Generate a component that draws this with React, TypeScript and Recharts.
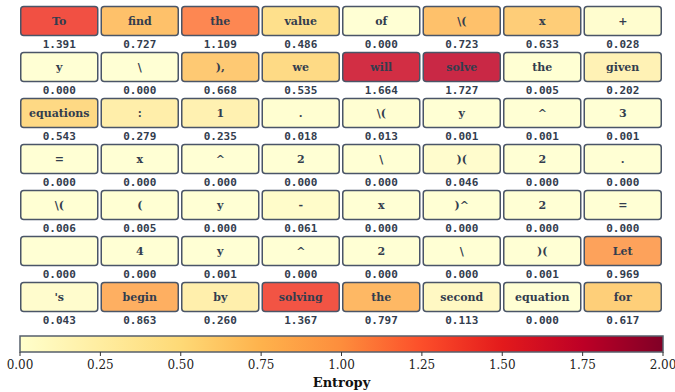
import { ScatterChart, Scatter, XAxis, YAxis, BarChart, Bar } from "recharts";

const tokens = [
  "To", "find", "the", "value", "of", "\\(", "x", "+",
  "y", "\\", "),", "we", "will", "solve", "the", "given",
  "equations", ":", "1", ".", "\\(", "y", "^", "3",
  "=", "x", "^", "2", "\\", ")(", "2", ".",
  "\\(", "(", "y", "-", "x", ")^", "2", "=",
  "", "4", "y", "^", "2", "\\", ")(", "Let",
  "'s", "begin", "by", "solving", "the", "second", "equation", "for",
];

const entropies = [
  1.391, 0.727, 1.109, 0.486, 0.0, 0.723, 0.633, 0.028,
  0.0, 0.0, 0.668, 0.535, 1.664, 1.727, 0.005, 0.202,
  0.543, 0.279, 0.235, 0.018, 0.013, 0.001, 0.001, 0.001,
  0.0, 0.0, 0.0, 0.0, 0.0, 0.046, 0.0, 0.0,
  0.006, 0.005, 0.0, 0.061, 0.0, 0.0, 0.0, 0.0,
  0.0, 0.0, 0.001, 0.0, 0.0, 0.0, 0.001, 0.969,
  0.043, 0.863, 0.26, 1.367, 0.797, 0.113, 0.0, 0.617,
];

const colorbarTicks = [0, 0.25, 0.5, 0.75, 1.0, 1.25, 1.5, 1.75, 2.0];

const COLS = 8;
const ROWS = 7;
const VMAX = 2;

// matplotlib YlOrRd
const YLORRD = ["#ffffcc", "#ffeda0", "#fed976", "#feb24c", "#fd8d3c", "#fc4e2a", "#e31a1c", "#bd0026", "#800026"];

function hexToRgb(h: string) {
  return [parseInt(h.slice(1, 3), 16), parseInt(h.slice(3, 5), 16), parseInt(h.slice(5, 7), 16)];
}

function cmap(v: number) {
  const t = Math.max(0, Math.min(1, v / VMAX)) * (YLORRD.length - 1);
  const i = Math.min(Math.floor(t), YLORRD.length - 2);
  const f = t - i;
  const a = hexToRgb(YLORRD[i]);
  const b = hexToRgb(YLORRD[i + 1]);
  const c = a.map((x, k) => Math.round(x + (b[k] - x) * f));
  return `rgb(${c[0]},${c[1]},${c[2]})`;
}

const cells = tokens.map((tok, i) => ({
  col: (i % COLS) + 0.5,
  row: Math.floor(i / COLS) + 0.5,
  token: tok,
  value: entropies[i],
}));

const TEXT = "#333d4e";

const TokenCell = (props: any) => {
  const { cx, cy, payload } = props;
  const w = 77;
  const h = 29;
  const bx = cx - w / 2;
  const by = cy - 6 - h / 2;
  return (
    <g>
      <rect
        x={bx}
        y={by}
        width={w}
        height={h}
        rx={3}
        fill={cmap(payload.value)}
        fillOpacity={0.85}
        stroke="#4a5567"
        strokeWidth={1.5}
      />
      <text
        x={cx}
        y={cy - 6}
        textAnchor="middle"
        dominantBaseline="central"
        fontFamily="DejaVu Serif"
        fontWeight="bold"
        fontSize={11}
        fill={TEXT}
      >
        {payload.token}
      </text>
      <text
        x={cx}
        y={cy + 17}
        textAnchor="middle"
        dominantBaseline="central"
        fontFamily="DejaVu Sans Mono"
        fontWeight="bold"
        fontSize={11}
        fill={TEXT}
      >
        {payload.value.toFixed(3)}
      </text>
    </g>
  );
};

const ColorbarTick = (props: any) => {
  const { x, y, payload } = props;
  return (
    <text
      x={x}
      y={y + 6}
      textAnchor="middle"
      dominantBaseline="central"
      fontFamily="DejaVu Serif"
      fontSize={12}
      fill="#222"
    >
      {Number(payload.value).toFixed(2)}
    </text>
  );
};

const colorbarData = [{ name: "Entropy", v: VMAX }];

export default function App() {
  return (
    <div style={{ position: "absolute", left: 0, top: 0, width: 675, height: 392, background: "#fff" }}>
      <ScatterChart width={675} height={330} margin={{ top: 4, right: 12, bottom: 4, left: 19 }}>
        <XAxis type="number" dataKey="col" domain={[0, COLS]} hide />
        <YAxis type="number" dataKey="row" domain={[0, ROWS]} reversed hide />
        <Scatter data={cells} shape={TokenCell} isAnimationActive={false} />
      </ScatterChart>
      <BarChart
        width={675}
        height={62}
        layout="vertical"
        data={colorbarData}
        margin={{ top: 6, right: 12, bottom: 0, left: 20 }}
        barCategoryGap={0}
      >
        <defs>
          <linearGradient id="cbGrad" x1="0" y1="0" x2="1" y2="0">
            {YLORRD.map((c, i) => (
              <stop key={i} offset={i / (YLORRD.length - 1)} stopColor={c} />
            ))}
          </linearGradient>
        </defs>
        <XAxis
          type="number"
          domain={[0, VMAX]}
          ticks={colorbarTicks}
          axisLine={false}
          tickSize={4}
          tickMargin={3}
          tickLine={{ stroke: "#333" }}
          tick={<ColorbarTick />}
          height={40}
          interval={0}
          label={{
            value: "Entropy",
            position: "insideBottom",
            offset: 5,
            style: { fontFamily: "DejaVu Serif", fontWeight: "bold", fontSize: 13, fill: "#111" },
          }}
        />
        <YAxis type="category" dataKey="name" hide />
        <Bar dataKey="v" fill="url(#cbGrad)" stroke="#555f6b" strokeWidth={1.5} isAnimationActive={false} />
      </BarChart>
    </div>
  );
}
